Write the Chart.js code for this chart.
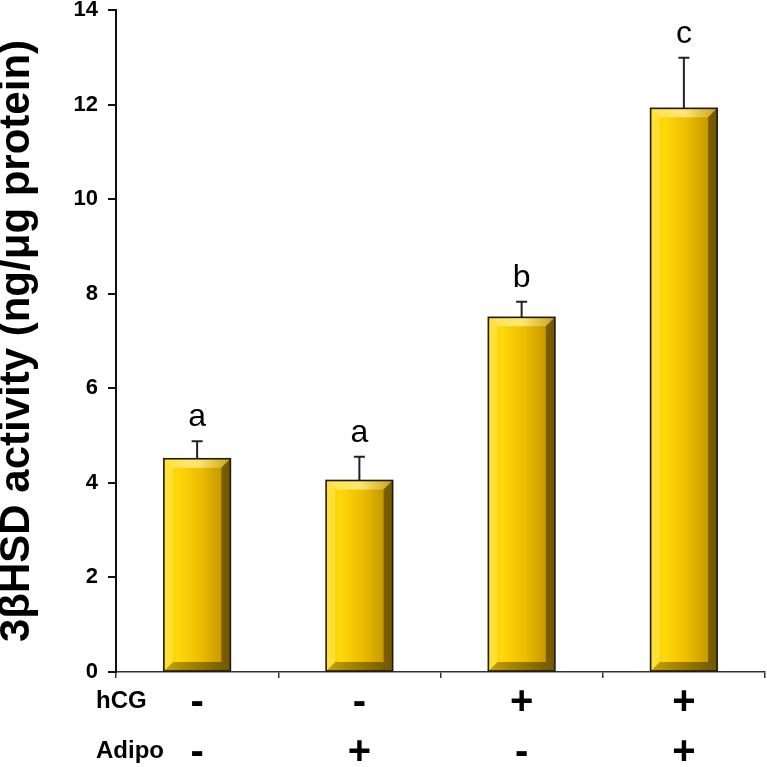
<!DOCTYPE html>
<html>
<head>
<meta charset="utf-8">
<script src="https://cdn.jsdelivr.net/npm/chart.js@4.4.1/dist/chart.umd.min.js"></script>
<style>
  html, body { margin: 0; padding: 0; background: #fff; }
  #wrap { width: 767px; height: 767px; position: relative; }
</style>
</head>
<body>
<div id="wrap"><canvas id="chart"></canvas></div>
<script>
'use strict';

// treatment rows under the axis
var rowNames = ['hCG', 'Adipo'];
var hcg = ['-', '-', '+', '+'];
var adipo = ['-', '+', '-', '+'];

// 3bHSD activity, mean and error (upper bar only)
var activity = [4.51, 4.05, 7.5, 11.92];
var errors = [0.37, 0.5, 0.33, 1.07];
var letters = ['a', 'a', 'b', 'c'];

var yMax = 14, yStep = 2;

var FONT = '"Liberation Sans", Arial, Helvetica, sans-serif';
var LINE_H = 50;

var labels = hcg.map(function (h, i) { return [h, adipo[i]]; });

var barLook = {
  id: 'barLook',
  afterDatasetsDraw: function (chart) {
    var ctx = chart.ctx;
    var meta = chart.getDatasetMeta(0);
    var yScale = chart.scales.y;
    meta.data.forEach(function (bar, i) {
      var p = bar.getProps(['x', 'y', 'base', 'width'], true);
      var l = p.x - p.width / 2, r = p.x + p.width / 2, t = p.y, b = p.base;
      var bv = 9;
      ctx.save();
      // face
      var g = ctx.createLinearGradient(l, 0, r, 0);
      g.addColorStop(0, '#f2c500');
      g.addColorStop(0.2, '#ffd90a');
      g.addColorStop(0.55, '#ecbc00');
      g.addColorStop(0.85, '#c89c00');
      g.addColorStop(1, '#8c6c00');
      ctx.fillStyle = g;
      ctx.fillRect(l, t, r - l, b - t);
      // bevels
      var poly = function (pts, fill) {
        ctx.beginPath();
        ctx.moveTo(pts[0][0], pts[0][1]);
        for (var k = 1; k < pts.length; k++) ctx.lineTo(pts[k][0], pts[k][1]);
        ctx.closePath();
        ctx.fillStyle = fill;
        ctx.fill();
      };
      var tg = ctx.createLinearGradient(l, 0, r, 0);
      tg.addColorStop(0, '#ffe24a');
      tg.addColorStop(0.5, '#ffe676');
      tg.addColorStop(1, '#c9a418');
      poly([[l, t], [r, t], [r - bv, t + bv], [l + bv, t + bv]], tg);
      var bg = ctx.createLinearGradient(l, 0, r, 0);
      bg.addColorStop(0, '#c9a000');
      bg.addColorStop(1, '#6e5500');
      poly([[l, b], [r, b], [r - bv, b - bv], [l + bv, b - bv]], bg);
      poly([[l, t], [l + bv, t + bv], [l + bv, b - bv], [l, b]], 'rgba(255,226,60,0.9)');
      poly([[r, t], [r - bv, t + bv], [r - bv, b - bv], [r, b]], 'rgba(110,84,0,0.85)');
      ctx.strokeStyle = '#1e1a10';
      ctx.lineWidth = 1.6;
      ctx.strokeRect(l, t, r - l, b - t);

      // upper error bar
      var top = yScale.getPixelForValue(activity[i] + errors[i]);
      ctx.strokeStyle = '#222';
      ctx.lineWidth = 2;
      ctx.beginPath();
      ctx.moveTo(p.x, t);
      ctx.lineTo(p.x, top);
      ctx.moveTo(p.x - 5.5, top);
      ctx.lineTo(p.x + 5.5, top);
      ctx.stroke();

      // significance letter
      ctx.fillStyle = '#000';
      ctx.font = '32px ' + FONT;
      ctx.textAlign = 'center';
      ctx.textBaseline = 'alphabetic';
      ctx.fillText(letters[i], p.x, top - 15);
      ctx.restore();
    });
  },
  afterDraw: function (chart) {
    var ctx = chart.ctx;
    var xs = chart.scales.x;
    ctx.save();
    ctx.fillStyle = '#000';
    ctx.font = 'bold 24px ' + FONT;
    ctx.textAlign = 'left';
    ctx.textBaseline = 'middle';
    rowNames.forEach(function (name, i) {
      ctx.fillText(name, 96, xs.top + 6 + LINE_H / 2 + i * LINE_H - 2);
    });
    ctx.restore();
  }
};

new Chart(document.getElementById('chart'), {
  type: 'bar',
  data: {
    labels: labels,
    datasets: [{
      data: activity,
      backgroundColor: '#e8be00',
      borderWidth: 0,
      barPercentage: 0.41,
      categoryPercentage: 1
    }]
  },
  options: {
    responsive: true,
    maintainAspectRatio: false,
    animation: false,
    layout: { padding: { top: 0, right: 2, bottom: 0, left: 0 } },
    plugins: { legend: { display: false }, tooltip: { enabled: false } },
    scales: {
      x: {
        grid: { offset: true, drawOnChartArea: false, tickLength: 6, color: '#333', lineWidth: 1.5 },
        border: { color: '#333', width: 1.5 },
        ticks: {
          color: '#000', autoSkip: false, maxRotation: 0, padding: 0,
          font: { family: FONT, size: 40, weight: 'bold', lineHeight: LINE_H / 40 }
        },
        afterFit: function (s) { s.height = 95; }
      },
      y: {
        min: 0, max: yMax,
        grid: { drawOnChartArea: false, tickLength: 8, color: '#111', lineWidth: 2 },
        border: { color: '#111', width: 2 },
        ticks: {
          stepSize: yStep, color: '#000', padding: 10,
          font: { family: FONT, size: 22, weight: 'bold', lineHeight: 0.9 }
        },
        title: {
          display: true,
          text: '3\u03b2HSD activity (ng/\u03bcg protein)',
          color: '#000',
          padding: 0,
          font: { family: FONT, size: 42, weight: 'bold', lineHeight: 0.85 }
        },
        afterFit: function (s) {
          s.width = 116;
          s.paddingTop = 10;
          s.paddingBottom = 0;
        }
      }
    }
  },
  plugins: [barLook]
});
</script>
</body>
</html>
